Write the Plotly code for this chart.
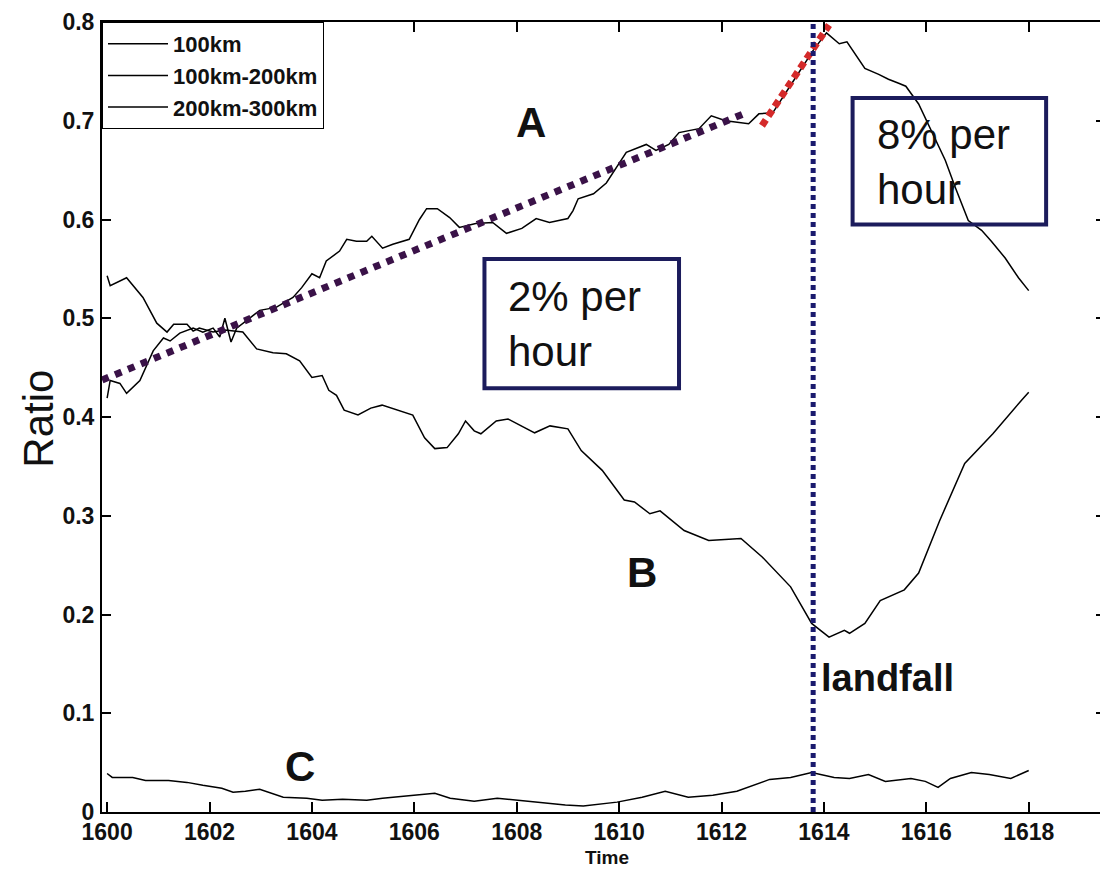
import plotly.graph_objects as go

# ---------------- data ----------------
time_100km = [1600.0, 1600.06, 1600.25, 1600.38, 1600.64, 1600.9, 1601.1, 1601.23, 1601.42, 1601.68,
              1601.87, 1602.07, 1602.2, 1602.3, 1602.42, 1602.53, 1602.98, 1603.3, 1603.63, 1603.8,
              1604.0, 1604.15, 1604.28, 1604.54, 1604.68, 1604.87, 1605.07, 1605.17, 1605.38, 1605.58,
              1605.9, 1606.1, 1606.24, 1606.45, 1606.69, 1606.88, 1607.2, 1607.53, 1607.8, 1608.1,
              1608.38, 1608.64, 1609.0, 1609.1, 1609.2, 1609.5, 1609.75, 1609.94, 1610.14, 1610.53,
              1610.72, 1610.97, 1611.17, 1611.56, 1611.7, 1611.8, 1612.08, 1612.34, 1612.53, 1612.73,
              1613.0, 1613.4, 1613.8, 1614.05, 1614.3, 1614.45, 1614.8, 1615.07, 1615.26, 1615.46,
              1615.6, 1615.85, 1616.1, 1616.37, 1616.57, 1616.82, 1617.08, 1617.27, 1617.54, 1617.8,
              1618.0]
ratio_100km = [0.419, 0.437, 0.434, 0.424, 0.437, 0.467, 0.480, 0.477, 0.485, 0.490,
               0.486, 0.490, 0.481, 0.500, 0.476, 0.490, 0.508, 0.511, 0.521, 0.531,
               0.545, 0.541, 0.558, 0.568, 0.580, 0.578, 0.578, 0.583, 0.571, 0.575,
               0.580, 0.600, 0.611, 0.611, 0.602, 0.592, 0.596, 0.597, 0.586, 0.591,
               0.601, 0.597, 0.601, 0.609, 0.621, 0.626, 0.637, 0.652, 0.668, 0.676,
               0.670, 0.676, 0.688, 0.692, 0.700, 0.705, 0.700, 0.698, 0.697, 0.707,
               0.708, 0.740, 0.772, 0.789, 0.778, 0.780, 0.753, 0.747, 0.742, 0.738,
               0.735, 0.717, 0.690, 0.660, 0.632, 0.599, 0.589, 0.578, 0.561, 0.541,
               0.528]

time_100_200km = [1600.0, 1600.06, 1600.38, 1600.7, 1600.97, 1601.17, 1601.3, 1601.56, 1601.68, 1601.8,
                  1602.07, 1602.3, 1602.65, 1602.92, 1603.24, 1603.5, 1603.76, 1604.0, 1604.2, 1604.33,
                  1604.48, 1604.63, 1604.9, 1605.15, 1605.37, 1605.67, 1605.97, 1606.2, 1606.4, 1606.64,
                  1606.86, 1607.0, 1607.17, 1607.3, 1607.6, 1607.83, 1608.13, 1608.35, 1608.65, 1609.0,
                  1609.26, 1609.67, 1610.1, 1610.3, 1610.6, 1610.8, 1611.27, 1611.75, 1612.38, 1612.8,
                  1613.35, 1613.76, 1614.1, 1614.4, 1614.5, 1614.8, 1615.1, 1615.57, 1615.85, 1616.26,
                  1616.75, 1617.3, 1617.86, 1618.0]
ratio_100_200km = [0.543, 0.533, 0.541, 0.521, 0.495, 0.486, 0.494, 0.494, 0.487, 0.490,
                   0.486, 0.488, 0.486, 0.469, 0.465, 0.464, 0.457, 0.440, 0.442, 0.427,
                   0.422, 0.407, 0.402, 0.409, 0.412, 0.407, 0.402, 0.379, 0.368, 0.369,
                   0.383, 0.396, 0.386, 0.383, 0.396, 0.398, 0.390, 0.384, 0.391, 0.388,
                   0.366, 0.346, 0.316, 0.314, 0.302, 0.305, 0.285, 0.275, 0.277, 0.258,
                   0.228, 0.191, 0.177, 0.184, 0.181, 0.191, 0.214, 0.225, 0.242, 0.295,
                   0.353, 0.383, 0.417, 0.425]

time_200_300km = [1600.0, 1600.1, 1600.5, 1600.75, 1601.2, 1601.56, 1601.87, 1602.24, 1602.46, 1602.7,
                  1602.98, 1603.2, 1603.44, 1603.9, 1604.2, 1604.6, 1605.07, 1605.38, 1605.83, 1606.1,
                  1606.4, 1606.7, 1607.17, 1607.62, 1607.98, 1608.5, 1608.95, 1609.3, 1609.96, 1610.45,
                  1610.9, 1611.35, 1611.83, 1612.3, 1612.6, 1612.94, 1613.35, 1613.76, 1614.2, 1614.5,
                  1614.87, 1615.2, 1615.7, 1615.98, 1616.23, 1616.47, 1616.88, 1617.23, 1617.65, 1618.0]
ratio_200_300km = [0.039, 0.035, 0.035, 0.032, 0.032, 0.030, 0.027, 0.024, 0.020, 0.021,
                   0.023, 0.019, 0.015, 0.014, 0.012, 0.013, 0.012, 0.014, 0.016, 0.017,
                   0.019, 0.014, 0.011, 0.014, 0.012, 0.009, 0.007, 0.006, 0.010, 0.015,
                   0.021, 0.015, 0.017, 0.021, 0.027, 0.033, 0.035, 0.040, 0.035, 0.034,
                   0.038, 0.031, 0.034, 0.031, 0.025, 0.034, 0.040, 0.038, 0.034, 0.042]

trend_slow_time = [1599.65, 1612.43]
trend_slow_ratio = [0.432, 0.707]
trend_fast_time = [1612.79, 1614.1]
trend_fast_ratio = [0.695, 0.797]
landfall_time = 1613.79

series_names = ["100km", "100km-200km", "200km-300km"]
x_ticks = [1600, 1602, 1604, 1606, 1608, 1610, 1612, 1614, 1616, 1618]
y_ticks = [0, 0.1, 0.2, 0.3, 0.4, 0.5, 0.6, 0.7, 0.8]
y_tick_text = ["0", "0.1", "0.2", "0.3", "0.4", "0.5", "0.6", "0.7", "0.8"]

# ---------------- figure ----------------
FONT = "Liberation Sans, Arial, sans-serif"
fig = go.Figure()

for t, r, name in [(time_100km, ratio_100km, series_names[0]),
                   (time_100_200km, ratio_100_200km, series_names[1]),
                   (time_200_300km, ratio_200_300km, series_names[2])]:
    fig.add_trace(go.Scatter(x=t, y=r, mode="lines", name=name,
                             line=dict(color="black", width=1.5)))

fig.add_trace(go.Scatter(x=trend_slow_time, y=trend_slow_ratio, mode="lines", showlegend=False,
                         line=dict(color="#3a1248", width=7, dash="7px,7px")))
fig.add_trace(go.Scatter(x=trend_fast_time, y=trend_fast_ratio, mode="lines", showlegend=False,
                         line=dict(color="#d42a2a", width=7, dash="7px,4.5px")))

fig.add_shape(type="line", xref="x", yref="y", x0=landfall_time, x1=landfall_time, y0=0, y1=0.8,
              line=dict(color="#1a1a6e", width=5, dash="5px,4px"))

# boxes
box_col = "#1c1c5c"
fig.add_shape(type="rect", xref="x", yref="y", x0=1607.37, x1=1611.17, y0=0.429, y1=0.560,
              line=dict(color=box_col, width=4))
fig.add_shape(type="rect", xref="x", yref="y", x0=1614.56, x1=1618.34, y0=0.595, y1=0.723,
              line=dict(color=box_col, width=4))

def ann(x, y, text, size, bold=False, xanchor="center", yanchor="middle", xref="x", yref="y", angle=0):
    fig.add_annotation(x=x, y=y, xref=xref, yref=yref, text=text, showarrow=False,
                       xanchor=xanchor, yanchor=yanchor, align="left", textangle=angle,
                       font=dict(family=FONT, size=size, color="#111111",
                                 weight="bold" if bold else "normal"))

ann(1608.28, 0.698, "A", 42, bold=True)
ann(1610.45, 0.243, "B", 42, bold=True)
ann(1603.76, 0.046, "C", 42, bold=True)
ann(1615.25, 0.1355, "landfall", 38, bold=True)
ann(1607.8, 0.4945, "2% per<br>hour", 42, xanchor="left")
ann(1615.0, 0.658, "8% per<br>hour", 42, xanchor="left")
ann(-0.0637, 0.498, "Ratio", 42, xref="paper", yref="paper", angle=-90)
ann(0.5035, -0.058, "Time", 19, bold=True, xref="paper", yref="paper")

axis_common = dict(showline=True, linecolor="black", linewidth=2, mirror="ticks",
                   ticks="inside", tickwidth=2, tickcolor="black", showgrid=False, zeroline=False,
                   tickfont=dict(family=FONT, size=23, color="#111111", weight="bold"))

fig.update_xaxes(range=[1599.9, 1619.49], tickvals=x_ticks, ticklen=10, ticklabelstandoff=-2,
                 **axis_common)
fig.update_yaxes(range=[0, 0.8], tickvals=y_ticks, ticktext=y_tick_text, ticklen=9,
                 ticklabelstandoff=1, **axis_common)

# the page body adds an 8px offset, so the figure is sized to the visible area
fig.update_layout(
    width=1100, height=862,
    margin=dict(l=94, r=1, t=13, b=58),
    paper_bgcolor="white", plot_bgcolor="white",
    showlegend=True,
    legend=dict(x=0, y=1, xanchor="left", yanchor="top", bgcolor="white",
                bordercolor="black", borderwidth=1, tracegroupgap=0, itemwidth=60,
                font=dict(family=FONT, size=22, color="#111111", weight="bold")),
)

fig.write_html("out.html")
